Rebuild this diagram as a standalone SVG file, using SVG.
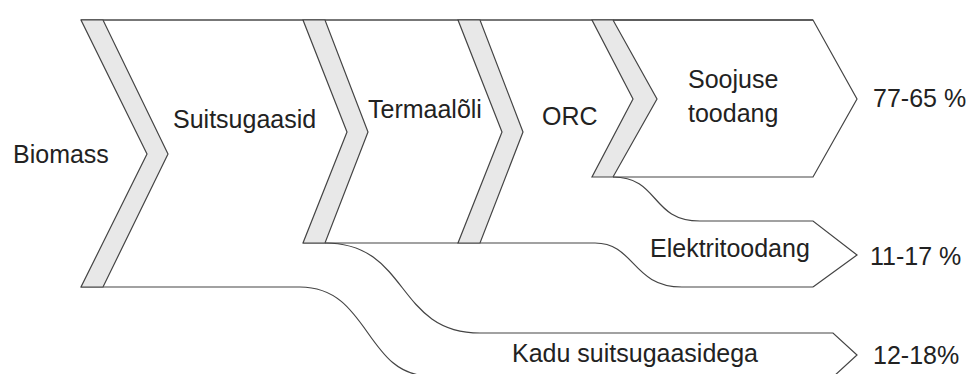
<svg xmlns="http://www.w3.org/2000/svg" width="974" height="374" viewBox="0 0 974 374">
<style>
.band{fill:#e8e8e8;stroke:#444;stroke-width:1.2;stroke-linejoin:miter}
.box{fill:#fff;stroke:#555;stroke-width:1.2}
.ln{fill:none;stroke:#444;stroke-width:1.2}
.top{fill:none;stroke:#777;stroke-width:2}
text{font-family:"Liberation Sans",Arial,sans-serif;font-size:25px;fill:#222}
</style>
<rect width="974" height="374" fill="#fff"/>
<g id="connectors">
<path class="ln" d="M81,287 L300,287 C370,287 365,376 430,376 L974,376"/>
<path class="ln" d="M303,243 L595,243 C635,243 632,287 682,287 L813,287"/>
<path class="ln" d="M325,243 C410,243 395,333 480,333 L833,333 L857,355 L833,377"/>
<path class="ln" d="M613,177 C660,177 650,221 700,221 L813,221 L857,255 L813,287"/>
<path class="top" d="M81,20 L813,20"/>
</g>
<g id="biomass">
<polygon class="band" points="81,20 103,20 168,154 103,287 81,287 147,154"/>
<text x="13" y="163">Biomass</text>
</g>
<g id="suitsugaasid">
<polygon class="band" points="303,20 325,20 368,132 325,243 303,243 347,132"/>
<text x="173" y="128">Suitsugaasid</text>
</g>
<g id="termaaloli">
<polygon class="band" points="458,20 480,20 523,132 480,243 458,243 502,132"/>
<text x="368" y="118">Termaalõli</text>
</g>
<g id="orc">
<polygon class="band" points="592,20 613,20 657,99 613,177 592,177 633,99"/>
<text x="542" y="125">ORC</text>
</g>
<g id="soojuse">
<path class="ln" d="M613,20 L813,20 L857,99 L813,177 L613,177"/>
<text x="688" y="88">Soojuse</text>
<text x="688" y="122">toodang</text>
<text x="873" y="107">77-65 %</text>
</g>
<g id="elektri">
<text x="650" y="257">Elektritoodang</text>
<text x="870" y="265">11-17 %</text>
</g>
<g id="kadu">
<text x="512" y="362">Kadu suitsugaasidega</text>
<text x="873" y="364">12-18%</text>
</g>
</svg>
